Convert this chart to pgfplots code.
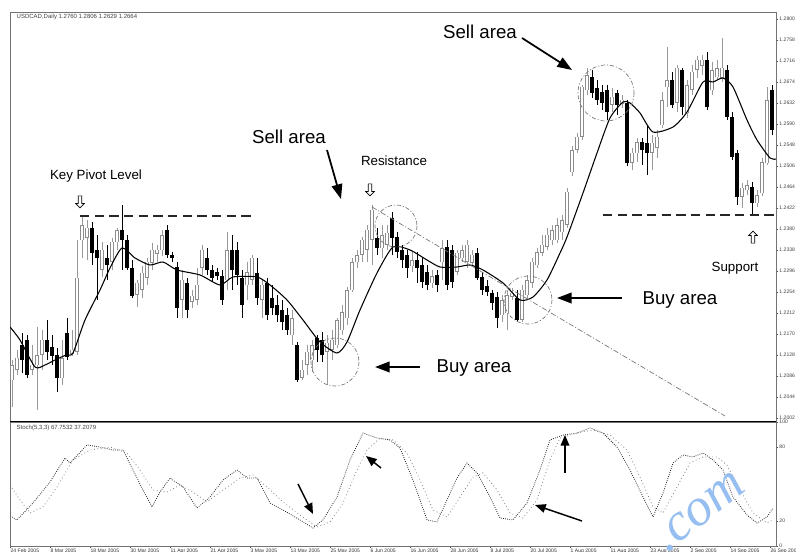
\documentclass[border=0pt]{standalone}
\usepackage{fontspec}
\setmainfont{Liberation Sans}
\newfontfamily\wmfont{Liberation Serif}
\usepackage{pgfplots}
\pgfplotsset{compat=1.18}
\usepackage{pgfplotstable}
\usetikzlibrary{arrows.meta,shapes.arrows}
\definecolor{wm}{RGB}{150,190,240}

% daily candles, x = bar number
\pgfplotstableread{
x o h l c
0 1.2078 1.2118 1.2024 1.2108
1 1.2098 1.2138 1.2088 1.2122
4 1.2098 1.2148 1.2088 1.2108
5 1.2108 1.2184 1.2018 1.2128
6 1.2128 1.2178 1.2098 1.2158
10 1.2082 1.2158 1.2068 1.2122
12 1.2130 1.2178 1.2126 1.2138
13 1.2134 1.2358 1.2128 1.2282
14 1.2358 1.2406 1.2322 1.2388
15 1.2362 1.2398 1.2318 1.2382
18 1.2298 1.2354 1.2284 1.2338
20 1.2314 1.2362 1.2298 1.2354
21 1.2354 1.2382 1.2338 1.2378
25 1.2248 1.2278 1.2224 1.2272
26 1.2258 1.2306 1.2242 1.2292
27 1.2282 1.2322 1.2268 1.2314
28 1.2312 1.2352 1.2298 1.2338
29 1.2330 1.2348 1.2314 1.2338
30 1.2338 1.2378 1.2326 1.2368
34 1.2238 1.2298 1.2202 1.2278
36 1.2234 1.2258 1.2222 1.2246
37 1.2238 1.2302 1.2228 1.2268
38 1.2302 1.2348 1.2288 1.2338
43 1.2278 1.2374 1.2258 1.2338
47 1.2268 1.2314 1.2238 1.2294
48 1.2278 1.2328 1.2268 1.2322
50 1.2238 1.2278 1.2202 1.2268
56 1.2168 1.2218 1.2148 1.2202
58 1.2082 1.2118 1.2078 1.2098
59 1.2108 1.2148 1.2088 1.2134
60 1.2118 1.2158 1.2094 1.2148
63 1.2134 1.2168 1.2068 1.2152
64 1.2138 1.2178 1.2118 1.2158
65 1.2148 1.2202 1.2142 1.2198
66 1.2178 1.2228 1.2168 1.2214
67 1.2202 1.2264 1.2188 1.2258
68 1.2258 1.2322 1.2254 1.2314
69 1.2314 1.2338 1.2302 1.2328
70 1.2328 1.2364 1.2314 1.2358
71 1.2338 1.2388 1.2314 1.2378
72 1.2358 1.2428 1.2308 1.2418
74 1.2342 1.2388 1.2322 1.2368
75 1.2348 1.2388 1.2338 1.2372
80 1.2306 1.2334 1.2294 1.2318
84 1.2272 1.2298 1.2262 1.2286
86 1.2314 1.2358 1.2278 1.2342
89 1.2294 1.2338 1.2288 1.2332
90 1.2322 1.2348 1.2314 1.2338
91 1.2314 1.2358 1.2302 1.2348
92 1.2312 1.2338 1.2306 1.2328
98 1.2208 1.2248 1.2194 1.2238
99 1.2212 1.2258 1.2178 1.2248
100 1.2244 1.2262 1.2238 1.2252
102 1.2198 1.2268 1.2194 1.2258
103 1.2248 1.2288 1.2238 1.2278
104 1.2272 1.2322 1.2262 1.2314
105 1.2308 1.2342 1.2302 1.2334
106 1.2332 1.2368 1.2326 1.2348
107 1.2344 1.2382 1.2338 1.2368
108 1.2358 1.2388 1.2348 1.2378
109 1.2358 1.2402 1.2352 1.2388
110 1.2374 1.2408 1.2358 1.2398
111 1.2388 1.2462 1.2382 1.2454
112 1.2494 1.2546 1.2486 1.2538
113 1.2538 1.2572 1.2532 1.2564
114 1.2564 1.2668 1.2558 1.2664
115 1.2658 1.2702 1.2648 1.2688
120 1.2628 1.2662 1.2614 1.2644
122 1.2630 1.2648 1.2622 1.2638
124 1.2512 1.2542 1.2498 1.2532
125 1.2532 1.2562 1.2514 1.2554
128 1.2532 1.2568 1.2498 1.2552
129 1.2542 1.2578 1.2522 1.2564
130 1.2588 1.2654 1.2582 1.2638
131 1.2664 1.2744 1.2624 1.2678
133 1.2632 1.2708 1.2614 1.2702
135 1.2612 1.2678 1.2602 1.2668
136 1.2658 1.2708 1.2648 1.2694
137 1.2698 1.2726 1.2682 1.2718
138 1.2706 1.2728 1.2688 1.2718
140 1.2658 1.2714 1.2648 1.2698
141 1.2684 1.2718 1.2678 1.2702
142 1.2682 1.2762 1.2674 1.2702
146 1.2444 1.2472 1.2422 1.2462
147 1.2458 1.2478 1.2448 1.2468
149 1.2432 1.2458 1.2424 1.2448
150 1.2452 1.2522 1.2446 1.2514
151 1.2512 1.2664 1.2508 1.2638
}\bull

\pgfplotstableread{
x o h l c
2 1.2148 1.2172 1.2092 1.2118
3 1.2158 1.2168 1.2082 1.2088
7 1.2158 1.2198 1.2118 1.2134
8 1.2144 1.2168 1.2108 1.2126
9 1.2128 1.2142 1.2054 1.2082
11 1.2172 1.2202 1.2118 1.2124
16 1.2382 1.2394 1.2308 1.2332
17 1.2338 1.2368 1.2238 1.2322
19 1.2322 1.2348 1.2278 1.2308
22 1.2378 1.2428 1.2298 1.2358
23 1.2358 1.2368 1.2298 1.2302
24 1.2302 1.2318 1.2242 1.2246
31 1.2378 1.2388 1.2322 1.2328
32 1.2328 1.2334 1.2314 1.2322
33 1.2304 1.2314 1.2202 1.2222
35 1.2272 1.2282 1.2202 1.2218
39 1.2322 1.2342 1.2288 1.2298
40 1.2298 1.2308 1.2274 1.2282
41 1.2294 1.2302 1.2278 1.2286
42 1.2286 1.2298 1.2228 1.2238
44 1.2338 1.2368 1.2258 1.2298
45 1.2338 1.2354 1.2268 1.2288
46 1.2282 1.2298 1.2202 1.2228
49 1.2292 1.2322 1.2228 1.2242
51 1.2272 1.2282 1.2198 1.2208
52 1.2242 1.2268 1.2208 1.2222
53 1.2228 1.2248 1.2194 1.2208
54 1.2218 1.2238 1.2178 1.2194
55 1.2208 1.2222 1.2168 1.2178
57 1.2148 1.2154 1.2074 1.2078
61 1.2162 1.2168 1.2114 1.2138
62 1.2158 1.2174 1.2114 1.2128
73 1.2362 1.2382 1.2328 1.2342
76 1.2402 1.2414 1.2328 1.2362
77 1.2364 1.2374 1.2322 1.2334
78 1.2338 1.2348 1.2302 1.2318
79 1.2328 1.2338 1.2282 1.2302
81 1.2318 1.2334 1.2272 1.2302
82 1.2308 1.2322 1.2262 1.2274
83 1.2294 1.2308 1.2258 1.2268
85 1.2288 1.2298 1.2254 1.2268
87 1.2344 1.2358 1.2258 1.2268
88 1.2338 1.2348 1.2262 1.2274
93 1.2332 1.2342 1.2278 1.2282
94 1.2284 1.2294 1.2248 1.2258
95 1.2266 1.2278 1.2246 1.2254
96 1.2252 1.2258 1.2218 1.2232
97 1.2244 1.2254 1.2182 1.2202
101 1.2242 1.2258 1.2194 1.2198
116 1.2684 1.2698 1.2642 1.2652
117 1.2662 1.2678 1.2628 1.2638
118 1.2654 1.2668 1.2618 1.2632
119 1.2658 1.2668 1.2598 1.2614
121 1.2652 1.2658 1.2608 1.2628
123 1.2632 1.2638 1.2506 1.2512
126 1.2554 1.2562 1.2508 1.2538
127 1.2552 1.2588 1.2488 1.2532
132 1.2678 1.2694 1.2622 1.2628
134 1.2698 1.2702 1.2608 1.2624
139 1.2718 1.2734 1.2618 1.2624
143 1.2698 1.2708 1.2598 1.2604
144 1.2604 1.2614 1.2518 1.2524
145 1.2532 1.2538 1.2428 1.2444
148 1.2464 1.2474 1.2408 1.2432
152 1.2658 1.2668 1.2568 1.2578
}\bear

\pgfplotsset{
  bar/.style 2 args={draw=none, mark=none, error bars/.cd, y explicit,
    error mark=none, error bar style={draw=#2, line width=#1}},
}

\begin{document}
\begin{tikzpicture}
\useasboundingbox (0,0) rectangle (597pt,414pt);

% price panel
\begin{axis}[
  at={(7.5pt,405pt)}, anchor=north west,
  scale only axis, width=574.5pt, height=306.75pt,
  xmin=-0.4, xmax=152.8, ymin=1.1996, ymax=1.2814,
  xtick=\empty,
  ytick={1.2002,1.2044,1.2086,1.2128,1.2170,1.2212,1.2254,1.2296,1.2338,1.2380,
         1.2422,1.2464,1.2506,1.2548,1.2590,1.2632,1.2674,1.2716,1.2758,1.2800},
  ytick pos=right, yticklabel pos=right,
  /pgf/number format/assume math mode=true,
  yticklabel={\pgfmathprintnumber[fixed,fixed zerofill,precision=4]{\tick}},
  yticklabel style={font=\fontsize{3.8}{4.5}\selectfont, text=black!75, inner sep=0.6pt},
  tick align=outside, major tick length=1.8pt,
  tick style={black!70, line width=0.4pt},
  axis line style={black!55, line width=0.4pt},
]
\addplot[bar={0.5pt}{black!40}, y dir=plus] table[x=x, y=l, y error expr=\thisrow{h}-\thisrow{l}] {\bull};
\addplot[bar={0.55pt}{black}, y dir=plus] table[x=x, y=l, y error expr=\thisrow{h}-\thisrow{l}] {\bear};
\addplot[bar={2.4pt}{black!45}, y dir=both] table[x=x, y expr=(\thisrow{o}+\thisrow{c})/2, y error expr=(\thisrow{c}-\thisrow{o})/2] {\bull};
\addplot[bar={1.5pt}{white}, y dir=both] table[x=x, y expr=(\thisrow{o}+\thisrow{c})/2, y error expr={max((\thisrow{c}-\thisrow{o})/2-0.0001,0)}] {\bull};
\addplot[bar={2.4pt}{black}, y dir=both] table[x=x, y expr=(\thisrow{o}+\thisrow{c})/2, y error expr=(\thisrow{o}-\thisrow{c})/2] {\bear};

% moving average
\addplot[black, line width=0.8pt, smooth, tension=0.4] coordinates {
(-0.4,1.2184) (1.6,1.2158) (4.6,1.2104) (6.6,1.2108) (8.6,1.2118) (10.8,1.2128)
(12.2,1.2132) (14.6,1.2198) (17.6,1.2258) (19.6,1.2302) (22,1.2342) (24.6,1.2322)
(27.6,1.2308) (30.2,1.2314) (33,1.2298) (37.6,1.2288) (41.6,1.2268) (44.2,1.2284)
(49,1.2284) (51.6,1.2268) (55,1.2238) (58.2,1.2198) (61.6,1.2154) (65,1.2132)
(67,1.2154) (69.6,1.2218) (73,1.2292) (76.2,1.2344) (79.6,1.2338) (83,1.2318)
(85.6,1.2304) (89,1.2304) (91.6,1.2308) (94.2,1.2298) (98.2,1.2272) (101.6,1.2238)
(104.2,1.2244) (107,1.2278) (109.6,1.2332) (111,1.2364) (114.2,1.2452) (117,1.2532)
(119.6,1.2602) (122.2,1.2634) (123.6,1.2632) (125.6,1.2612) (128.2,1.2574) (132.2,1.2584)
(135,1.2614) (138.2,1.2674) (140.2,1.2674) (142.2,1.2682) (144.2,1.2664) (147,1.2598)
(149,1.2558) (151.6,1.2522) (152.8,1.2520)
};

% pivot, support and trend lines
\draw[black!85, line width=0.9pt, dash pattern=on 7pt off 4pt] (axis cs:13.6,1.2406) -- (axis cs:48.6,1.2406);
\draw[black!85, line width=0.9pt, dash pattern=on 7pt off 4pt] (axis cs:118.2,1.2408) -- (axis cs:152.8,1.2408);
\draw[black!55, line width=0.5pt, dash pattern=on 4pt off 1.5pt on 0.8pt off 1.5pt] (axis cs:72,1.2424) -- (axis cs:142.6,1.2006);
\end{axis}

% stochastic panel
\begin{axis}[
  at={(7.5pt,97.5pt)}, anchor=north west,
  scale only axis, width=574.5pt, height=93pt,
  xmin=-0.4, xmax=152.8, ymin=0, ymax=100,
  ytick={0,20,80,100}, ytick pos=right, yticklabel pos=right,
  xtick={-0.4,7.6,...,151.6}, xtick pos=bottom,
  xticklabels={24 Feb 2005,8 Mar 2005,18 Mar 2005,30 Mar 2005,11 Apr 2005,21 Apr 2005,
    3 May 2005,13 May 2005,25 May 2005,6 Jun 2005,16 Jun 2005,28 Jun 2005,8 Jul 2005,
    20 Jul 2005,1 Aug 2005,11 Aug 2005,23 Aug 2005,2 Sep 2005,14 Sep 2005,26 Sep 2005},
  /pgf/number format/assume math mode=true,
  xticklabel style={anchor=north west, font=\fontsize{3.8}{4.2}\selectfont, inner sep=0.3pt, text=black!80},
  yticklabel style={font=\fontsize{3.8}{4.5}\selectfont, text=black!75, inner sep=0.6pt},
  tick align=outside, major tick length=1.8pt,
  tick style={black!70, line width=0.4pt},
  axis line style={black!55, line width=0.4pt},
]
\addplot[black!85, line width=0.6pt, densely dotted] coordinates {
(0,23.4) (1,21) (4.2,34.7) (7.6,51.6) (10.6,71) (11.6,66.9) (15,81.5) (17.6,79.8)
(20.2,77.4) (22.2,77.4) (24.2,61.3) (26.2,45.2) (28,31.5) (29.6,43.5) (31.6,54.8)
(34.2,47.6) (37,30.6) (39.6,39.5) (42.2,53.2) (45,61.3) (47,54.8) (49,54.8) (51.6,34.7)
(54.2,29) (57.6,21) (60.2,14.5) (62.2,21) (65,39.5) (67.6,69.4) (70.2,91.1) (73,87.1)
(75.6,85.5) (77.6,79) (80.2,53.2) (83,21) (85,19.4) (87,37.1) (89,54.8) (91,66.9)
(93,58.9) (95.6,39.5) (97.6,22.6) (100.2,21) (103,34.7) (105.6,61.3) (107.6,85.5)
(110.2,89.5) (113,91.1) (115.6,95.2) (118.2,91.1) (121,79.8) (123.6,61.3) (126.2,39.5)
(128.2,23.4) (130.2,42.7) (132.2,66.9) (134.2,73.4) (136.2,71.8) (138.2,75) (140.2,69.4)
(142.2,61.3) (144.2,39.5) (147,25) (149,18.5) (151,23.4) (152.2,30.6)
};
\addplot[black!50, line width=0.6pt, dotted] coordinates {
(0,46.8) (1.6,37.1) (3.6,26.6) (6.2,31.5) (9,47.6) (12.2,69.4) (15.6,77.4) (19.6,79.8)
(23,75) (25.6,61.3) (28.2,45.2) (31,43.5) (33.6,49.2) (36.2,43.5) (39,35.5) (41.6,43.5)
(45.6,54.8) (48.2,57.3) (51,47.6) (54.2,35.5) (57.6,25) (61,15.3) (63.6,19.4) (66.2,34.7)
(69,61.3) (71,77.4) (73.6,87.1) (76.2,85.5) (79,75) (81.6,53.2) (84.2,29) (87,23.4)
(89.6,39.5) (92.2,55.6) (94.2,58.9) (97,45.2) (99.6,26.6) (102.2,22.6) (105,37.1)
(107.6,69.4) (109.6,87.1) (113,91.1) (116.2,93.5) (119.6,89.5) (123,77.4) (125.6,55.6)
(128.2,31.5) (130.2,26.6) (133,47.6) (135.6,66.9) (138.2,71.8) (141,71.8) (143,65.3)
(145.6,45.2) (148.2,26.6) (151,18.5) (152.2,21)
};
\end{axis}

% annotations, in pixel units of the picture
\begin{scope}[x=0.75pt, y=-0.75pt, shift={(0pt,414pt)}]
\draw[black, line width=1.4pt] (10,421.5) -- (776,421.5);
\node[anchor=west, font=\fontsize{4.5}{5}\selectfont, text=black!75] at (12,17) {USDCAD,Daily 1.2760 1.2806 1.2629 1.2664};
\node[anchor=west, font=\fontsize{4.5}{5}\selectfont, text=black!75] at (12,428) {Stoch(5,3,3) 67.7532 37.2079};

\node[font=\fontsize{14}{16}\selectfont] at (480,32) {Sell area};
\node[font=\fontsize{14}{16}\selectfont] at (289,137) {Sell area};
\node[font=\fontsize{14}{16}\selectfont] at (474,368) {Buy area};
\node[font=\fontsize{14}{16}\selectfont] at (680,300) {Buy area};
\node[font=\fontsize{10}{12}\selectfont] at (96,176) {Key Pivot Level};
\node[font=\fontsize{10}{12}\selectfont] at (394,161) {Resistance};
\node[font=\fontsize{10}{12}\selectfont] at (735,268) {Support};

\tikzset{hollow/.style={single arrow, draw=black, line width=0.5pt, fill=white,
  minimum height=9pt, minimum width=6.5pt, single arrow head extend=1.6pt, inner sep=0.9pt}}
\node[hollow, shape border rotate=270] at (80,201) {};
\node[hollow, shape border rotate=270] at (370,189) {};
\node[hollow, shape border rotate=90] at (753,238) {};

\tikzset{big/.style={line width=1.3pt, -{Triangle[length=11pt,width=8pt]}},
         small/.style={line width=1.1pt, -{Triangle[length=8pt,width=6.5pt]}}}
\draw[big] (522,38) -- (572,70);
\draw[big] (327,150) -- (341,199);
\draw[big] (420,367) -- (375,367);
\draw[big] (622,298) -- (557,298);
\draw[small] (298,484) -- (313,514);
\draw[small] (381,468) -- (366,456);
\draw[small] (565,473) -- (565,435);
\draw[small] (582,521) -- (535,505);

\tikzset{ring/.style={black!55, line width=0.5pt, dash pattern=on 3pt off 1.5pt on 0.8pt off 1.5pt}}
\draw[ring] (335,362) circle[radius=24];
\draw[ring] (396,226) circle[radius=21];
\draw[ring] (528,300) circle[radius=24];
\draw[ring] (606,93) circle[radius=28];

\node[rotate=38, text=wm, font=\wmfont\itshape\fontsize{40}{40}\selectfont] at (700,512) {.com};
\end{scope}
\end{tikzpicture}
\end{document}
